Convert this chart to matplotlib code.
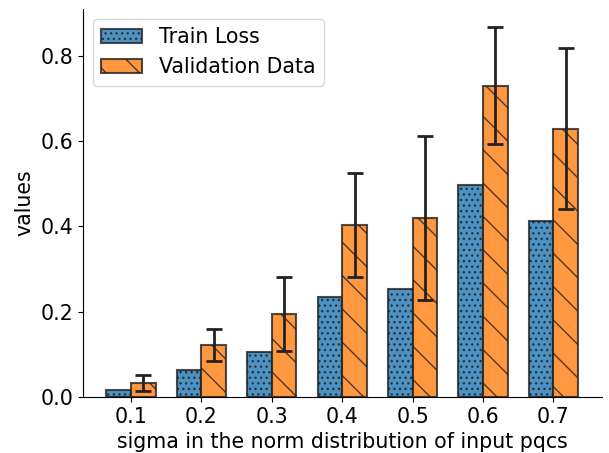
import numpy as np
import matplotlib
matplotlib.use("Agg")
import matplotlib.pyplot as plt

# sigma values and the per-sigma results
sigmas = ["0.1", "0.2", "0.3", "0.4", "0.5", "0.6", "0.7"]
train_loss = [0.017, 0.063, 0.105, 0.235, 0.252, 0.497, 0.413]
val_data = [0.033, 0.121, 0.195, 0.403, 0.420, 0.730, 0.629]
val_err = [0.019, 0.037, 0.087, 0.123, 0.192, 0.137, 0.188]

plt.rcParams['font.size'] = 14.8

fig, ax = plt.subplots(figsize=(6.09, 4.53), dpi=100)
fig.subplots_adjust(left=0.136, right=0.988, bottom=0.124, top=0.981)

x = np.arange(len(sigmas))
width = 0.35

ax.bar(x - width/2, train_loss, width, label="Train Loss",
       color="tab:blue", edgecolor="#222222", alpha=0.8, linewidth=1.5, hatch="...")
ax.bar(x + width/2, val_data, width, yerr=val_err, label="Validation Data",
       color="tab:orange", edgecolor="#222222", alpha=0.8, linewidth=1.5, hatch="\\",
       error_kw=dict(ecolor="#222222", capsize=6, elinewidth=2, capthick=2))

ax.set_xticks(x)
ax.set_xticklabels(sigmas)
ax.set_xlabel("sigma in the norm distribution of input pqcs")
ax.set_ylabel("values")

ax.spines['top'].set_visible(False)
ax.spines['right'].set_visible(False)

ax.legend(loc="upper left")

fig.savefig("out.png", dpi=100)
